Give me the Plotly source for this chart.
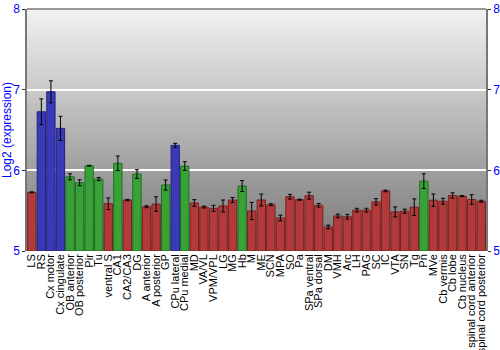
import plotly.graph_objects as go

regions = ["LS", "RS", "Cx motor", "Cx cingulate", "OB anterior", "OB posterior", "Pir", "Tu",
           "ventral S", "CA1", "CA2/CA3", "DG", "A anterior", "A posterior", "GP", "CPu lateral",
           "CPu medial", "MD", "VA/VL", "VPM/VPL", "LG", "MG", "Hb", "M", "ME", "SCN", "MPA", "SO",
           "Pa", "SPa ventral", "SPa dorsal", "DM", "VMH", "Arc", "LH", "PAG", "SC", "IC", "VTA",
           "SN", "Tg", "Pn", "MVe", "Cb vermis", "Cb lobe", "Cb nucleus", "spinal cord anterior",
           "spinal cord posterior"]

expression = [5.727, 6.726, 6.974, 6.52, 5.92, 5.846, 6.057, 5.892,
              5.586, 6.087, 5.632, 5.954, 5.549, 5.582, 5.818, 6.31,
              6.053, 5.595, 5.545, 5.529, 5.558, 5.632, 5.805, 5.496, 5.632, 5.574, 5.409, 5.673,
              5.636, 5.686, 5.566, 5.297, 5.434, 5.425, 5.506, 5.506, 5.609, 5.745, 5.485,
              5.493, 5.543, 5.866, 5.63, 5.617, 5.688, 5.68, 5.638,
              5.617]

error = [0.006, 0.16, 0.136, 0.15, 0.037, 0.037, 0.005, 0.02,
         0.072, 0.09, 0.008, 0.054, 0.012, 0.09, 0.062, 0.025,
         0.054, 0.041, 0.012, 0.037, 0.074, 0.031, 0.068, 0.107, 0.074, 0.012, 0.035, 0.029,
         0.006, 0.043, 0.023, 0.023, 0.023, 0.029, 0.023, 0.023, 0.039, 0.01, 0.062,
         0.025, 0.103, 0.091, 0.077, 0.037, 0.033, 0.006, 0.06,
         0.012]

group = ["r", "b", "b", "b", "g", "g", "g", "g",
         "r", "g", "r", "g", "r", "r", "g", "b",
         "g", "r", "r", "r", "r", "r", "g", "r", "r", "r", "r", "r",
         "r", "r", "r", "r", "r", "r", "r", "r", "r", "r", "r",
         "r", "r", "g", "r", "r", "r", "r", "r",
         "r"]

y_ticks = [5, 6, 7, 8]

fill = {"r": "#b33a3a", "b": "#3a3ab8", "g": "#38a238"}
edge = {"r": "#7a2020", "b": "#222280", "g": "#1f6e1f"}

fig = go.Figure()
fig.add_trace(go.Bar(
    x=regions, y=[v - 5 for v in expression], base=5,
    marker=dict(color=[fill[g] for g in group],
                line=dict(color=[edge[g] for g in group], width=1)),
    error_y=dict(type="data", array=error, color="black", thickness=1, width=2),
    width=0.87, showlegend=False, hoverinfo="skip"))
fig.add_trace(go.Scatter(x=[regions[0]], y=[5], yaxis="y2", mode="markers",
                         marker=dict(opacity=0), showlegend=False, hoverinfo="skip"))

# background gradient
shapes = []
n = 60
for i in range(n):
    t = i / n
    c = int(round(0x76 + (0xf2 - 0x76) * (t + 0.5 / n)))
    shapes.append(dict(type="rect", xref="paper", yref="paper", x0=0, x1=1,
                       y0=t, y1=min(1, (i + 1) / n + 0.01), layer="below",
                       line=dict(width=0), fillcolor=f"rgb({c},{c},{c})"))
shapes.append(dict(type="line", xref="paper", yref="paper", x0=0, x1=1, y0=1, y1=1,
                   line=dict(color="#777777", width=1.5)))
fig.update_layout(shapes=shapes)

fig.update_layout(
    width=500, height=350,
    margin=dict(l=27, r=14, t=9, b=99),
    paper_bgcolor="white", plot_bgcolor="rgba(0,0,0,0)",
    font=dict(family="Liberation Sans, Arial, sans-serif"),
    bargap=0.13,
    xaxis=dict(tickangle=-90, tickfont=dict(size=11, color="black"),
               tickmode="array", tickvals=regions, ticktext=regions,
               showgrid=False, ticks="", showline=False, zeroline=False, automargin=False,
               range=[-0.5, len(regions) - 0.5]),
    yaxis=dict(range=[5, 8], tickmode="array", tickvals=y_ticks, ticktext=[str(v) for v in y_ticks],
               tickfont=dict(size=12, color="blue"), ticks="outside", ticklen=3,
               tickcolor="#333333", showline=True, linecolor="#777777", linewidth=1.5,
               showgrid=True, gridcolor="white", gridwidth=1.5, zeroline=False, automargin=False,
               title=dict(text="Log2 (expression)", font=dict(size=12, color="blue"), standoff=2)),
    yaxis2=dict(range=[5, 8], overlaying="y", side="right", tickmode="array", tickvals=y_ticks,
                ticktext=[str(v) for v in y_ticks],
                tickfont=dict(size=12, color="blue"), ticks="outside", ticklen=3,
                tickcolor="#333333", showline=True, linecolor="#777777", linewidth=1.5,
                showgrid=False, zeroline=False, automargin=False),
)

fig.write_html("out.html")
